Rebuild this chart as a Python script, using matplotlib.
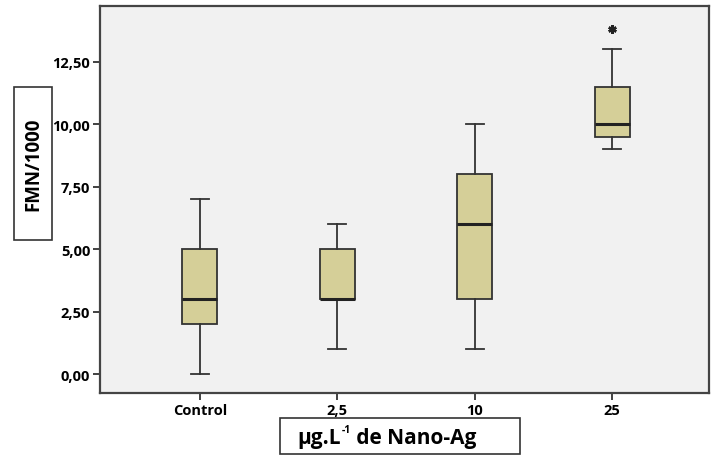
import matplotlib
matplotlib.use("Agg")
import matplotlib.pyplot as plt
from matplotlib.patches import Rectangle

plt.rcParams['font.family'] = ['Open Sans', 'DejaVu Sans']

# Daten
groups = ["Control", "2,5", "10", "25"]
whislo = [0.0, 1.0, 1.0, 9.0]
q1 = [2.0, 3.0, 3.0, 9.5]
med = [3.0, 3.0, 6.0, 10.0]
q3 = [5.0, 5.0, 8.0, 11.5]
whishi = [7.0, 6.0, 10.0, 13.0]
fliers = [[], [], [], [13.8]]
yticks = [0.0, 2.5, 5.0, 7.5, 10.0, 12.5]

stats = []
for i, g in enumerate(groups):
    stats.append({"label": g, "whislo": whislo[i], "q1": q1[i], "med": med[i],
                  "q3": q3[i], "whishi": whishi[i], "fliers": fliers[i]})

W, H = 717, 456
fig = plt.figure(figsize=(W / 100, H / 100), dpi=100)
ax = fig.add_axes([100 / W, 62 / H, 609 / W, 387 / H])
ax.set_facecolor("#f1f1f1")

edge = "#333333"
ax.bxp(stats, positions=range(len(groups)), widths=0.255, capwidths=0.13,
       patch_artist=True, manage_ticks=False,
       boxprops=dict(facecolor="#d5cf98", edgecolor=edge, linewidth=1.3),
       medianprops=dict(color="#222222", linewidth=2.2),
       whiskerprops=dict(color=edge, linewidth=1.3),
       capprops=dict(color=edge, linewidth=1.3),
       flierprops=dict(marker=(6, 2, 0), markersize=6, markeredgecolor="#222222",
                       markeredgewidth=1.8, linestyle="none"))

ax.set_xlim(-0.727, 3.705)
ax.set_ylim(-0.76, 14.74)
ax.set_xticks(range(len(groups)))
ax.set_xticklabels(groups)
ax.set_yticks(yticks)
ax.set_yticklabels([f"{v:.2f}".replace(".", ",") for v in yticks])
for lab in ax.get_xticklabels() + ax.get_yticklabels():
    lab.set_fontweight("bold")
    lab.set_fontsize(10.5)
ax.tick_params(direction="out", length=5, width=1.3, color=edge, pad=2)
for sp in ax.spines.values():
    sp.set_color("#444444")
    sp.set_linewidth(1.6)

# Achsenbeschriftungen in Kästen
fig.add_artist(Rectangle((14 / W, 1 - 241 / H), 38 / W, 153 / H, transform=fig.transFigure,
                         facecolor="white", edgecolor="#333333", linewidth=1.2))
fig.text(33 / W, 1 - 164 / H, "FMN/1000", rotation=90, ha="center", va="center",
         fontsize=13.5, fontweight="bold")
fig.add_artist(Rectangle((280 / W, 1 - 455 / H), 240 / W, 36 / H, transform=fig.transFigure,
                         facecolor="white", edgecolor="#333333", linewidth=1.2))

# x-Beschriftung in drei Teilen (kleines hochgestelltes -1)
renderer = fig.canvas.get_renderer()
t1 = fig.text(297 / W, 1 - 439 / H, "µg.L", ha="left", va="center",
              fontsize=15, fontweight="bold")
bb1 = t1.get_window_extent(renderer)
t2 = fig.text((bb1.x1 + 1) / W, (bb1.y0 + 0.62 * bb1.height) / H, "-1", ha="left", va="bottom",
              fontsize=7.5, fontweight="bold")
bb2 = t2.get_window_extent(renderer)
fig.text(bb2.x1 / W, 1 - 439 / H, " de Nano-Ag", ha="left", va="center",
         fontsize=15, fontweight="bold")

fig.savefig("out.png", dpi=100)
